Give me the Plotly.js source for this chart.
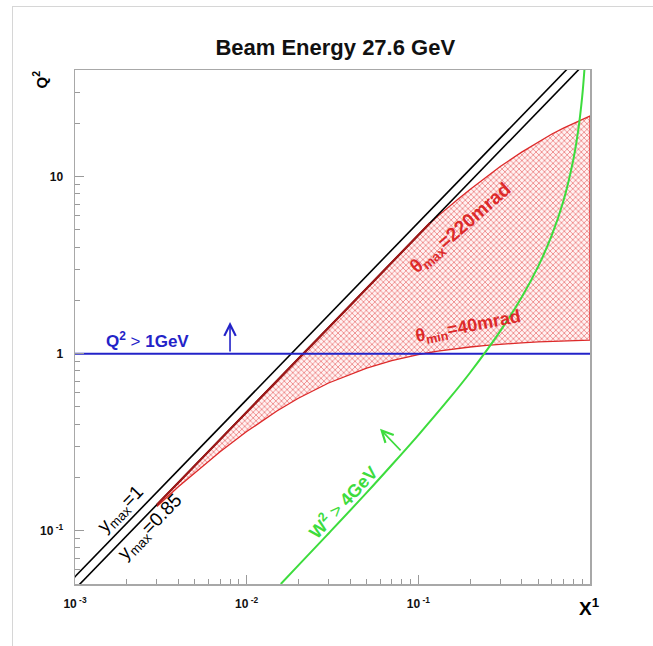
<!DOCTYPE html>
<html>
<head>
<meta charset="utf-8">
<script src="https://cdn.plot.ly/plotly-3.0.1.min.js"></script>
<style>
html,body{margin:0;padding:0;background:#fff;overflow:hidden;width:653px;height:646px;}
#chart{position:absolute;left:0;top:0;width:653px;height:646px;}
#frame{position:absolute;left:12px;top:6px;width:660px;height:660px;border-left:1px solid #d6d6d6;border-top:1px solid #d6d6d6;pointer-events:none;}
</style>
</head>
<body>
<div id="chart"></div>
<div id="frame"></div>
<script>
// ---- data ----
const xTickVals = [0.001, 0.01, 0.1];
const xTickText = ['10<sup> -3</sup>', '10<sup> -2</sup>', '10<sup> -1</sup>'];
const yTickVals = [0.1, 1, 10];
const yTickText = ['10<sup> -1</sup>', '1', '10'];

// acceptance band (theta_min = 40 mrad .. theta_max = 220 mrad, capped by y_max = 0.85)
const accX       = [0.003,0.004,0.005,0.007,0.01,0.015,0.02,0.03,0.05,0.07,0.1,0.117,0.13,0.15,0.17,0.2,0.25,0.3,0.4,0.5,0.6,0.7,0.85,1.0];
const accUpperQ2 = [0.140,0.187,0.234,0.328,0.468,0.702,0.936,1.40,2.34,3.28,4.68,5.47,5.98,6.74,7.45,8.46,10.0,11.4,13.75,15.7,17.4,18.8,20.6,22.0];
const accLowerQ2 = [0.137,0.177,0.213,0.279,0.363,0.474,0.560,0.683,0.829,0.912,0.987,1.015,1.032,1.053,1.071,1.090,1.114,1.130,1.151,1.164,1.173,1.179,1.186,1.191];
const nOnYCut = 12; // first points of the upper edge lie on the y_max=0.85 line

// kinematic limits
const yMax1X   = [0.0009, 0.8];
const yMax1Q2  = [0.0495, 44.0];
const yMax085X  = [0.001, 0.9];
const yMax085Q2 = [0.0468, 42.1];

// W^2 > 4 GeV^2 limit
const w2X  = [0.0158,0.02,0.03,0.05,0.07,0.1,0.15,0.2,0.3,0.4,0.5,0.6,0.7,0.8,0.85,0.9,0.93];
const w2Q2 = [0.050,0.0637,0.0965,0.164,0.235,0.347,0.551,0.780,1.34,2.08,3.12,4.68,7.28,12.5,17.7,28.1,41.4];

// Q^2 > 1 GeV^2 cut
const q2CutX  = [0.001, 1.0];
const q2CutQ2 = [1.0, 1.0];

// ---- build ----
const FONT = 'Liberation Sans, Arial, Helvetica, sans-serif';
const RED = '#dd2a2a', DARKRED = '#a01818', GREEN = '#3ddc3d', BLUE = '#2323c8';
const L = v => Math.log10(v);

const polyX = accX.concat(accX.slice().reverse());
const polyY = accUpperQ2.concat(accLowerQ2.slice().reverse());

const traces = [
  {x: polyX, y: polyY, mode: 'lines', fill: 'toself', fillcolor: 'rgba(0,0,0,0)',
   fillpattern: {shape: 'x', size: 4, solidity: 0.4, fgcolor: '#ee8a8a', bgcolor: '#fff2f2', fillmode: 'replace'},
   line: {color: RED, width: 1.3}, hoverinfo: 'skip'},
  {x: yMax1X, y: yMax1Q2, mode: 'lines', line: {color: '#000', width: 1.6}, hoverinfo: 'skip'},
  {x: yMax085X, y: yMax085Q2, mode: 'lines', line: {color: '#000', width: 1.6}, hoverinfo: 'skip'},
  {x: accX.slice(0, nOnYCut), y: accUpperQ2.slice(0, nOnYCut), mode: 'lines', line: {color: DARKRED, width: 2.2}, hoverinfo: 'skip'},
  {x: q2CutX, y: q2CutQ2, mode: 'lines', line: {color: BLUE, width: 2}, hoverinfo: 'skip'},
  {x: w2X, y: w2Q2, mode: 'lines', line: {color: GREEN, width: 2, shape: 'spline'}, hoverinfo: 'skip'}
];

const tickFont = {family: FONT, size: 12, color: '#111', weight: 'bold'};
const axisCommon = {
  type: 'log', showgrid: false, zeroline: false,
  showline: true, linecolor: '#a8a8a8', linewidth: 1.5, mirror: true,
  ticks: 'inside', ticklen: 9, tickcolor: '#9a9a9a', tickwidth: 1,
  tickfont: tickFont, tickmode: 'array',
  minor: {ticks: 'inside', ticklen: 5, tickcolor: '#9a9a9a', dtick: 'D1', showgrid: false}
};

const ann = (x, y, text, color, size, angle, bold) => ({
  x: L(x), y: L(y), xref: 'x', yref: 'y', text: text, showarrow: false,
  textangle: angle, font: {family: FONT, size: size, color: color, weight: bold ? 'bold' : 'normal'}
});

const annotations = [
  ann(0.00266, 1.195, '<b>Q<sup>2</sup></b> > <b>1GeV</b>', BLUE, 17, 0, false),
  {x: L(0.008), y: L(1.51), xref: 'x', yref: 'y', ax: 0, ay: 31, axref: 'pixel', ayref: 'pixel',
   showarrow: true, arrowhead: 5, arrowsize: 1.4, arrowwidth: 1.6, arrowcolor: BLUE, text: ''},
  {x: L(0.0598), y: L(0.376), xref: 'x', yref: 'y', ax: 22, ay: 23,
   showarrow: true, arrowhead: 5, arrowsize: 1.4, arrowwidth: 1.6, arrowcolor: GREEN, text: ''},
  ann(0.0364, 0.147, '<b>W<sup>2</sup></b> > <b>4GeV</b>', GREEN, 18, -47, false),
  ann(0.177, 5.07, 'θ<sub>max</sub>=220mrad', RED, 19, -41, true),
  ann(0.195, 1.40, 'θ<sub>min</sub>=40mrad', RED, 18, -11, true),
  ann(0.00185, 0.131, 'y<sub>max</sub>=1', '#000', 19, -46, false),
  ann(0.00277, 0.105, 'y<sub>max</sub>=0.85', '#000', 19, -46, false),
  {xref: 'paper', yref: 'paper', x: (602 - 75) / 515, y: (584 - 621) / 514,
   text: '<b>X<sup>1</sup></b>', showarrow: false, font: {family: FONT, size: 19, color: '#000'}},
  {xref: 'paper', yref: 'paper', x: (28 - 75) / 515, y: (584 - 69) / 514,
   text: '<b>Q<sup>2</sup></b>', showarrow: false, textangle: -90, font: {family: FONT, size: 15, color: '#000'}}
];

const layout = {
  width: 653, height: 646,
  margin: {l: 75, r: 63, t: 70, b: 62},
  paper_bgcolor: 'rgba(0,0,0,0)', plot_bgcolor: '#fff',
  showlegend: false,
  title: {text: '<b>Beam Energy 27.6 GeV</b>', x: 330 / 653, xanchor: 'center', xref: 'paper',
          y: 1 - 47 / 646, yanchor: 'middle', yref: 'container',
          font: {family: FONT, size: 22, color: '#111'}},
  xaxis: Object.assign({}, axisCommon, {range: [-3, 0], tickvals: xTickVals, ticktext: xTickText, ticklabelstandoff: 8}),
  yaxis: Object.assign({}, axisCommon, {range: [L(0.05), L(40)], tickvals: yTickVals, ticktext: yTickText, ticklabelstandoff: 8}),
  annotations: annotations
};

Plotly.newPlot('chart', traces, layout, {staticPlot: true, displayModeBar: false});
</script>
</body>
</html>
